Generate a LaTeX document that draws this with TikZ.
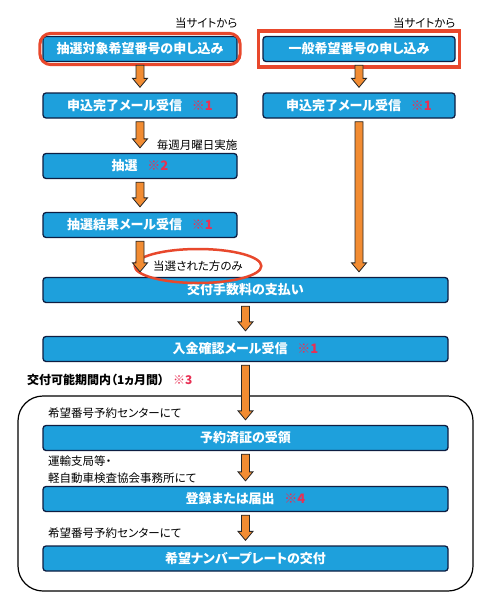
\documentclass[tikz,border=0pt]{standalone}
\usepackage{fontspec}
\setmainfont{Noto Sans CJK JP}[RawFeature=+palt]
\usetikzlibrary{calc,fit,shapes.geometric}

\definecolor{boxblue}{RGB}{30,160,220}
\definecolor{boxline}{RGB}{14,30,66}
\definecolor{arroworange}{RGB}{242,140,50}
\definecolor{markred}{RGB}{232,72,44}
\definecolor{komered}{RGB}{232,48,84}

\newcommand{\kome}[1]{\hspace{0.75em}\textcolor{komered}{#1}}
\newcommand{\flowarrow}[2]{%
  \draw[flowtip] let \p1=($(#1.south)+(0,-3pt)$), \p2=($(#2.north)+(0,5pt)$) in
    (\x1-4pt,\y1) -- (\x1+4pt,\y1) -- (\x1+4pt,\y2+9pt) -- (\x1+7.5pt,\y2+9pt)
    -- (\x1,\y2) -- (\x1-7.5pt,\y2+9pt) -- (\x1-4pt,\y2+9pt) -- cycle;}

\begin{document}
\begin{tikzpicture}[x=1pt,y=-1pt,
    stepbox/.style={draw=boxline, fill=boxblue, line width=1.3pt, rounded corners=3pt,
      text=white, font=\bfseries\fontsize{13}{15}\selectfont,
      minimum height=25pt, inner sep=0pt},
    halfbox/.style={stepbox, minimum width=194pt},
    fullbox/.style={stepbox, minimum width=405pt},
    sidelabel/.style={inner sep=0pt, font=\fontsize{11.5}{17}\selectfont},
    flowtip/.style={draw=black!85, fill=arroworange, line width=0.8pt, line join=miter}]
  \useasboundingbox (0,0) rectangle (500,613);

  % two ways to apply
  \node[halfbox] (lotapply) at (140,49) {抽選対象希望番号の申し込み};
  \node[stepbox, minimum width=192pt] (genapply) at (359,49) {一般希望番号の申し込み};
  \node[fit=(lotapply), inner sep=2.5pt, draw=markred, line width=3pt, rounded corners=11pt] (lotmark) {};
  \node[fit=(genapply), inner xsep=4pt, inner ysep=5pt, draw=markred, line width=3.5pt] (genmark) {};
  \node[sidelabel, anchor=east] (siteA) at ([yshift=13pt]lotapply.north east) {当サイトから};
  \node[sidelabel, anchor=east] (siteB) at ([yshift=13pt]genapply.north east) {当サイトから};

  \node[halfbox] (lotmail) at (140,105.5) {申込完了メール受信\kome{※1}};
  \node[stepbox, minimum width=192pt] (genmail) at (359,105.5) {申込完了メール受信\kome{※1}};
  \node[halfbox] (draw) at (140,166) {抽選\kome{※2}};
  \node[sidelabel, anchor=east] (weekly) at ([yshift=8pt]draw.north east) {毎週月曜日実施};
  \node[halfbox] (result) at (140,225) {抽選結果メール受信\kome{※1}};

  % common steps
  \node[fullbox] (pay) at (245.5,290) {交付手数料の支払い};
  \node[ellipse, draw=markred, line width=2.5pt, minimum width=116pt, minimum height=34pt,
    inner sep=0pt, font=\fontsize{11.5}{14}\selectfont] (winner) at (198,266) {当選された方のみ};
  \node[fullbox] (paidmail) at (245.5,349) {入金確認メール受信\kome{※1}};
  \node[anchor=west, inner sep=0pt, font=\bfseries\fontsize{12}{14}\selectfont] (period)
    at (27,380) {交付可能期間内（1ヵ月間）\kome{※3}};

  % within the period
  \draw[line width=1.2pt, rounded corners=25pt] (18,396) rectangle (473,591);
  \node[sidelabel, anchor=west] (centerA) at (48,413) {希望番号予約センターにて};
  \node[fullbox] (voucher) at (245.5,438) {予約済証の受領};
  \node[sidelabel, anchor=west, align=left] (office) at (48,469.5) {運輸支局等・\\軽自動車検査協会事務所にて};
  \node[fullbox] (register) at (245.5,499) {登録または届出\kome{※4}};
  \node[sidelabel, anchor=west] (centerB) at (48,533) {希望番号予約センターにて};
  \node[fullbox] (plate) at (245.5,558.5) {希望ナンバープレートの交付};

  \flowarrow{lotapply}{lotmail}
  \flowarrow{genapply}{genmail}
  \flowarrow{lotmail}{draw}
  \flowarrow{draw}{result}
  \flowarrow{result}{pay}
  \flowarrow{genmail}{pay}
  \flowarrow{pay}{paidmail}
  \flowarrow{paidmail}{voucher}
  \flowarrow{voucher}{register}
  \flowarrow{register}{plate}
\end{tikzpicture}
\end{document}
